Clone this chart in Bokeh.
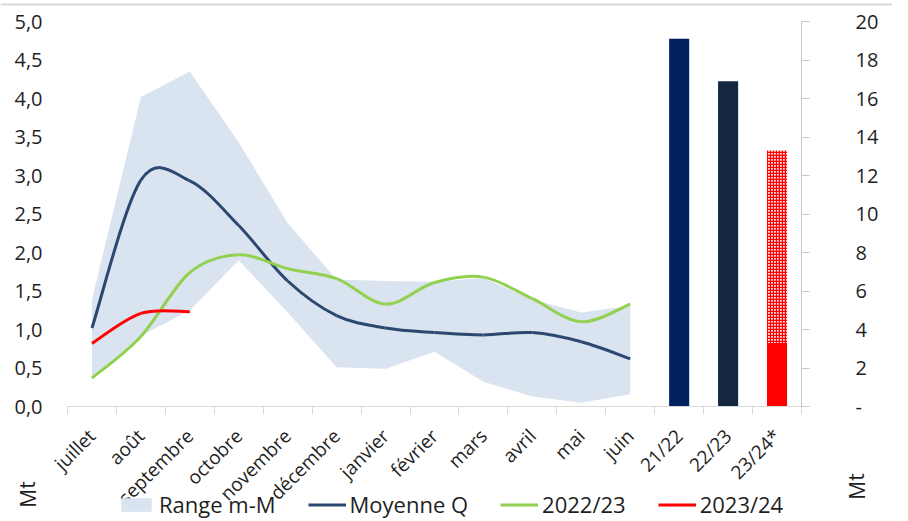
from bokeh.plotting import figure
from bokeh.models import (Range1d, LinearAxis, FixedTicker, CustomJSTickFormatter,
                          Legend, LegendItem, Label, Span)
from bokeh.embed import file_html
from bokeh.resources import INLINE

# ---------------- data ----------------
months = ["juillet", "août", "septembre", "octobre", "novembre", "décembre",
          "janvier", "février", "mars", "avril", "mai", "juin"]
seasons = ["21/22", "22/23", "23/24*"]

range_low = [0.38, 0.92, 1.25, 1.90, 1.22, 0.51, 0.49, 0.71, 0.32, 0.13, 0.05, 0.16]
range_high = [1.39, 4.02, 4.35, 3.43, 2.38, 1.65, 1.63, 1.62, 1.67, 1.39, 1.22, 1.31]
moyenne_q = [1.02, 2.94, 2.93, 2.35, 1.63, 1.18, 1.02, 0.96, 0.93, 0.96, 0.84, 0.62]
s_2022_23 = [0.37, 0.91, 1.74, 1.97, 1.79, 1.66, 1.33, 1.61, 1.68, 1.40, 1.10, 1.33]
s_2023_24 = [0.82, 1.21, 1.23]

season_totals = [19.1, 16.9, 13.3]      # Mt, right axis
current_done = 3.3                       # realised part of 23/24*

left_ticks = [0, 0.5, 1, 1.5, 2, 2.5, 3, 3.5, 4, 4.5, 5]
right_ticks = [0, 2, 4, 6, 8, 10, 12, 14, 16, 18, 20]
left_max, right_max = 5, 20

# ---------------- styles / layout ----------------
FONT = "Open Sans"
TXT = "#1f1f1f"
C_BAND = "#DAE3F0"
C_MOY = "#2C4870"
C_GREEN = "#92D050"
C_RED = "#FF0000"
C_BAR1 = "#002060"
C_BAR2 = "#14273F"
C_AXIS = "#C8C8C8"

W, H = 892, 519
PL, PR, PT, PB = 67, 801, 21, 406      # plotting area inside the canvas (px)

categories = months + seasons
ncat = len(categories)
xpos = {c: i + 1 for i, c in enumerate(categories)}
mx = [xpos[m] for m in months]
sx = [xpos[s] for s in seasons]

xpx = (PR - PL) / ncat
ypx = (PB - PT) / left_max
x0 = 0.5 - PL / xpx
x1 = ncat + 0.5 + (W - PR) / xpx
y0 = -(H - PB) / ypx
y1 = left_max + PT / ypx
k = right_max / left_max


def px_x(px):
    return x0 + px / xpx


def px_y(py):
    return y1 - py / ypx


p = figure(width=W, height=H, output_backend="svg", toolbar_location=None,
           x_range=Range1d(x0, x1), y_range=Range1d(y0, y1),
           x_axis_location=None, y_axis_location=None,
           min_border=0, min_border_left=0, min_border_right=0,
           min_border_top=0, min_border_bottom=0)
p.outline_line_color = None
p.xgrid.visible = False
p.ygrid.visible = False
p.background_fill_color = "white"
p.border_fill_color = "white"
p.extra_y_ranges = {"right": Range1d(y0 * k, y1 * k)}

p.add_layout(Span(location=px_y(4), dimension="width", line_color="#D9D9D9",
                  line_width=2))


def bezier_data(xs, ys):
    n = len(xs)
    d = dict(x0=[], y0=[], x1=[], y1=[], cx0=[], cy0=[], cx1=[], cy1=[])
    for i in range(n - 1):
        a = i - 1 if i > 0 else i
        b = i + 2 if i + 2 < n else i + 1
        d["x0"].append(xs[i]); d["y0"].append(ys[i])
        d["x1"].append(xs[i + 1]); d["y1"].append(ys[i + 1])
        d["cx0"].append(xs[i] + (xs[i + 1] - xs[a]) / 6)
        d["cy0"].append(ys[i] + (ys[i + 1] - ys[a]) / 6)
        d["cx1"].append(xs[i + 1] - (xs[b] - xs[i]) / 6)
        d["cy1"].append(ys[i + 1] - (ys[b] - ys[i]) / 6)
    return d


band = p.varea(x=mx, y1=range_low, y2=range_high, fill_color=C_BAND)
r_moy = p.bezier(source=bezier_data(mx, moyenne_q), line_color=C_MOY, line_width=3)
r_g = p.bezier(source=bezier_data(mx, s_2022_23), line_color=C_GREEN, line_width=3)
r_r = p.bezier(source=bezier_data(mx[:len(s_2023_24)], s_2023_24),
               line_color=C_RED, line_width=3)

# bars (right axis)
p.vbar(x=sx[:2], top=season_totals[:2], width=0.41, y_range_name="right",
       fill_color=[C_BAR1, C_BAR2], line_color=None)
p.vbar(x=[sx[2]], bottom=[current_done], top=[season_totals[2]], width=0.41,
       y_range_name="right", fill_color="#FFE0E0", line_color=None,
       hatch_pattern="+", hatch_color=C_RED, hatch_scale=3, hatch_weight=1.4)
p.vbar(x=[sx[2]], top=[current_done], width=0.41, y_range_name="right",
       fill_color=C_RED, line_color=None)

# ---------------- axes ----------------
yl = LinearAxis(fixed_location=0.5, bounds=(0, left_max))
yl.ticker = FixedTicker(ticks=left_ticks)
yl.formatter = CustomJSTickFormatter(code="return tick.toFixed(1).replace('.', ',');")
yl.axis_line_color = None
yl.major_tick_line_color = None
yl.major_tick_out = 0
yl.minor_tick_line_color = None
yl.major_label_text_font = FONT
yl.major_label_text_font_size = "20px"
yl.major_label_text_color = TXT
yl.major_label_standoff = 25
p.add_layout(yl, "left")

yr = LinearAxis(y_range_name="right", fixed_location=ncat + 0.5, bounds=(0, right_max))
yr.ticker = FixedTicker(ticks=right_ticks)
yr.formatter = CustomJSTickFormatter(code="return tick == 0 ? '-' : tick.toFixed(0);")
yr.axis_line_color = C_AXIS
yr.major_tick_line_color = C_AXIS
yr.major_tick_out = 8
yr.major_tick_in = 0
yr.minor_tick_line_color = None
yr.major_label_text_font = FONT
yr.major_label_text_font_size = "20px"
yr.major_label_text_color = TXT
yr.major_label_standoff = 46
p.add_layout(yr, "right")

xa = LinearAxis(fixed_location=0, bounds=(0.5, ncat + 0.5))
xa.ticker = FixedTicker(ticks=list(xpos.values()),
                        minor_ticks=[i + 0.5 for i in range(ncat + 1)])
xa.major_label_overrides = {v: c for c, v in xpos.items()}
xa.major_label_orientation = 0.785398
xa.axis_line_color = "#D9D9D9"
xa.major_tick_line_color = None
xa.major_tick_out = 0
xa.minor_tick_line_color = "#D9D9D9"
xa.minor_tick_out = 8
xa.minor_tick_in = 0
xa.major_label_text_font = FONT
xa.major_label_text_font_size = "19px"
xa.major_label_text_color = TXT
xa.major_label_standoff = 18
p.add_layout(xa, "below")

# ---------------- axis titles ----------------
p.add_layout(Label(x=px_x(27), y=px_y(494), text="Mt", angle=1.5708,
                   text_align="center", text_baseline="middle",
                   text_font=FONT, text_font_size="21px", text_color=TXT))
p.add_layout(Label(x=px_x(856), y=px_y(486), text="Mt", angle=1.5708,
                   text_align="center", text_baseline="middle",
                   text_font=FONT, text_font_size="21px", text_color=TXT))

# ---------------- legend ----------------
legend = Legend(items=[LegendItem(label="Range m-M", renderers=[band]),
                       LegendItem(label="Moyenne Q", renderers=[r_moy]),
                       LegendItem(label="2022/23", renderers=[r_g]),
                       LegendItem(label="2023/24", renderers=[r_r])],
                orientation="horizontal", location=(117, 0),
                label_text_font=FONT, label_text_font_size="22px",
                label_text_color=TXT, glyph_width=38, glyph_height=17,
                label_height=20, label_standoff=4, spacing=32, padding=0, margin=0,
                border_line_color=None, background_fill_alpha=0)
p.add_layout(legend, "center")

open("out.html", "w").write(file_html(p, INLINE))
